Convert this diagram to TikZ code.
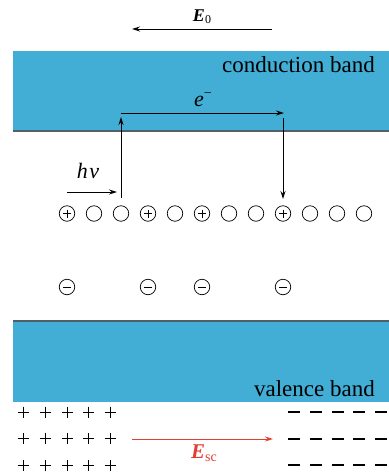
\documentclass[tikz,border=0pt]{standalone}
\usepackage{fontspec}
\setmainfont{Liberation Serif}
\usetikzlibrary{arrows.meta}
\definecolor{bandblue}{RGB}{66,174,213}
\definecolor{bandedge}{RGB}{80,96,104}
\definecolor{fieldred}{RGB}{228,62,52}
\tikzset{
  band/.style={fill=bandblue, draw=none},
  bandline/.style={draw=bandedge, line width=1.5pt},
  bandlabel/.style={font=\fontsize{23}{27}\selectfont, inner sep=0pt, anchor=base east},
  mathlabel/.style={font=\fontsize{21}{24}\selectfont, inner sep=0pt, anchor=base},
  arr/.style={line width=1pt, -{Stealth[length=8pt,width=5pt]}},
  site/.style={circle, draw, line width=0.7pt, minimum size=15.5pt, inner sep=0pt},
  possite/.style={site, path picture={
      \draw[line width=0.7pt]
        ([xshift=-4pt]path picture bounding box.center) -- ([xshift=4pt]path picture bounding box.center)
        ([yshift=-4pt]path picture bounding box.center) -- ([yshift=4pt]path picture bounding box.center);}},
  negsite/.style={site, path picture={
      \draw[line width=0.7pt]
        ([xshift=-4pt]path picture bounding box.center) -- ([xshift=4pt]path picture bounding box.center);}},
  plussign/.style={line width=1pt},
  minussign/.style={line width=2pt},
}
\begin{document}
\begin{tikzpicture}[x=1pt, y=-1pt]
\useasboundingbox (0,0) rectangle (389,475);

% external field
\coordinate (e0s) at (272,29);
\coordinate (e0e) at (132,29);
\draw[arr] (e0s) -- (e0e);
\node[mathlabel, font=\fontsize{18}{21}\selectfont] (e0lab) at (202,21)
  {\textbf{\textit{E}}\raisebox{-2.5pt}{\fontsize{12}{14}\selectfont 0}};

% conduction band
\fill[band] (13,51) rectangle (389,131);
\draw[bandline] (13,131) -- (389,131);
\node[bandlabel] (cb) at (375,72.5) {conduction band};

% valence band
\fill[band] (13,321) rectangle (389,402);
\draw[bandline] (13,321) -- (389,321);
\node[bandlabel] (vb) at (375,396.5) {valence band};

% row of lattice sites
\foreach \i/\kind in {1/possite,2/site,3/site,4/possite,5/site,6/possite,7/site,8/site,9/possite,10/site,11/site,12/site}{
  \node[\kind] (s\i) at ({67+27*(\i-1)},213.5) {};
}
% trapped negative charges
\foreach \i in {1,4,6,9}{
  \node[negsite] (n\i) at ({67+27*(\i-1)},287) {};
}

% photon
\coordinate (hvs) at (67,192);
\coordinate (hve) at (117,192);
\draw[arr] (hvs) -- (hve);
\node[mathlabel, font=\fontsize{22}{25}\selectfont] (hvlab) at (88,178) {\textit{h\kern1.5pt ν}};

% excitation, drift and trapping of the electron
\coordinate (up0) at (121,198);
\coordinate (up1) at (121,117);
\draw[arr] (up0) -- (up1);
\coordinate (dr0) at (121,113);
\coordinate (dr1) at (284,113);
\draw[arr] (dr0) -- (dr1);
\node[mathlabel, font=\fontsize{22}{25}\selectfont] (elab) at (203,106.5)
  {\textit{e}\raisebox{9pt}{\fontsize{14}{16}\selectfont −}};
\coordinate (dn0) at (283,118);
\coordinate (dn1) at (283,199);
\draw[arr] (dn0) -- (dn1);

% space charge
\foreach \y in {412,438.5,465}{
  \foreach \x in {23,45,67,88.5,110}{
    \draw[plussign] (\x-5.5,\y) -- (\x+5.5,\y) (\x,\y-5.5) -- (\x,\y+5.5);
  }
  \foreach \x in {294,316,338,359,381}{
    \draw[minussign] (\x-6,\y) -- (\x+6,\y);
  }
}

% space-charge field
\coordinate (scs) at (132,439);
\coordinate (sce) at (273,439);
\draw[arr, draw=fieldred, fill=fieldred] (scs) -- (sce);
\node[mathlabel, text=fieldred] (sclab) at (204,458)
  {\textbf{\textit{E}}\raisebox{-3pt}{\fontsize{14}{16}\selectfont sc}};
\end{tikzpicture}
\end{document}
